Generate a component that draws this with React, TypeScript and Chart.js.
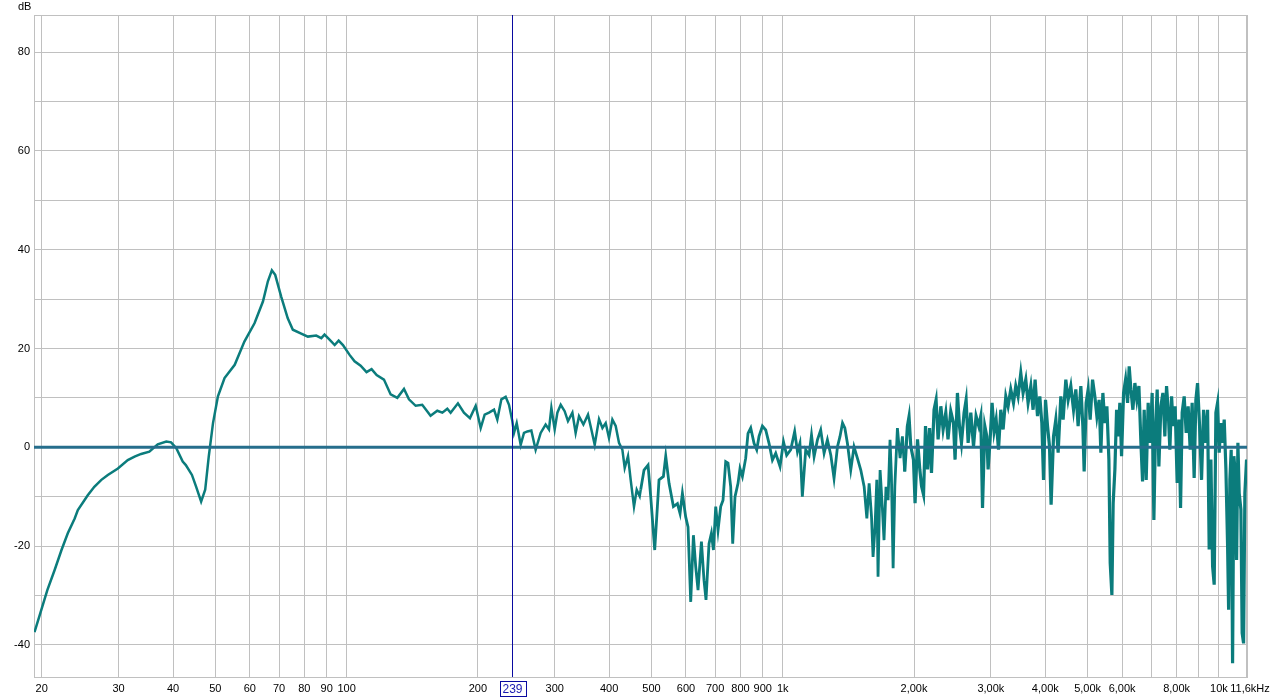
import React, { useEffect, useRef } from 'react';
import { Chart, registerables } from 'chart.js';

Chart.register(...registerables);

// Measured frequency response (Hz, dB)
const freqHz: number[] = [
  19.25, 19.94, 20.6, 21.4, 22.2, 22.95, 23.8, 24.2, 25.5, 26.4, 27.4, 28.35, 29.9, 31.5, 32.65, 33.8, 35.3, 36.9, 38.6, 39.6,
  40.7, 42.1, 42.8, 44.2, 45.2, 46.4, 47.4, 48.3, 49.4, 50.7, 52.5, 55.4, 58.3, 61.5, 64.3, 66.0, 67.4, 68.6, 70.8, 73.3,
  75.3, 78.7, 81.5, 85.2, 87.5, 89.0, 91.4, 93.9, 95.9, 98.1, 101.6, 104.3, 107.7, 111.1, 114.1, 117.2,
  121.8, 126.2, 130.7, 135.4, 139.0, 144.0, 149.1, 155.8, 161.4, 165.8, 170.2, 173.2, 180.0, 185.8, 191.8, 197.7, 203.0, 207.3,
  212.1, 217.8, 221.6, 226.4, 231.6, 235.7, 239.9, 242.0, 245.5, 250.7, 255.1, 259.7, 265.2, 271.3, 278.6, 286.0, 291.1, 294.8,
  300.0, 304.3, 309.7, 316.2, 321.8, 329.4, 335.1, 341.1, 349.1, 357.7, 364.1, 370.6, 379.1, 386.0, 392.7, 399.6, 406.8, 414.0,
  421.3, 428.9, 434.2, 441.8, 448.1, 456.0, 462.6, 469.9,
  472.4, 480.8, 491.1, 498.1, 508.7, 520.4, 532.6, 539.2, 548.7, 561.5, 573.5, 581.5, 588.8, 599.1, 606.5, 615.2, 624.0, 631.7,
  639.4, 651.0, 659.9, 666.9, 677.6, 686.2, 693.5, 702.0, 710.6, 720.7, 729.6, 740.0, 749.1, 759.8, 767.9, 777.3, 789.7, 798.0,
  808.2, 822.4, 832.5, 844.5, 859.4, 871.7, 882.3, 898.2, 914.1, 930.2, 947.0, 963.6, 985.8, 1004, 1021, 1043, 1065, 1081,
  1095, 1109, 1129, 1149, 1164, 1180, 1201, 1222, 1244, 1266, 1289, 1311, 1335, 1353, 1371, 1388, 1407, 1432, 1457, 1483,
  1510, 1537, 1559, 1578, 1598, 1611, 1628, 1643, 1654, 1672, 1693, 1707, 1725, 1744, 1762, 1775, 1791, 1807, 1832, 1858,
  1881, 1904, 1931, 1948,
  1966, 1994, 2011, 2037, 2062, 2081, 2103, 2125, 2148, 2171, 2193, 2223, 2247, 2271, 2304, 2332, 2365, 2393, 2428, 2463,
  2484, 2515, 2542, 2569, 2605, 2633, 2661, 2699, 2738, 2775, 2815, 2845, 2871, 2906, 2937, 2957, 2989, 3020, 3052, 3085,
  3124, 3162, 3201, 3247, 3286, 3333, 3381, 3422, 3464, 3514, 3557, 3608, 3652, 3705, 3750, 3790, 3838, 3885, 3927, 3962,
  4004, 4047, 4089, 4124, 4177, 4228, 4280, 4341, 4394, 4457, 4512, 4576, 4642, 4699, 4756,
  4825, 4876, 4910, 4962, 5015, 5068, 5133, 5195, 5251, 5315, 5363, 5420, 5477, 5536, 5595, 5634, 5684, 5723, 5775, 5827,
  5875, 5928, 5982, 6046, 6110, 6175, 6228, 6284, 6351, 6418, 6485, 6556, 6626, 6683, 6741, 6813, 6884, 6957, 7031, 7095,
  7159, 7220, 7285, 7362, 7441, 7518, 7586, 7651, 7720, 7790, 7855, 7938, 8023, 8095, 8168, 8238, 8326, 8414, 8503, 8594,
  8684, 8776, 8856, 8935, 9030, 9125, 9223, 9321, 9420, 9501, 9587, 9674, 9755, 9843, 9931, 10016, 10106, 10198, 10285, 10378,
  10471, 10527, 10598, 10671, 10750, 10825, 10900, 10980, 11056, 11132, 11232, 11308, 11393, 11470, 11573, 11600,
];

const levelDb: number[] = [
  -37.4, -33.0, -28.9, -24.9, -20.8, -17.4, -14.4, -12.7, -9.7, -8.0, -6.6, -5.6, -4.3, -2.6, -1.9, -1.35, -0.9, 0.6, 1.15, 1.0,
  -0.2, -2.9, -3.6, -5.6, -8.0, -11.0, -8.6, -1.9, 4.9, 10.3, 14.0, 16.7, 21.4, 25.1, 29.5, 33.6, 35.8, 34.9, 30.5, 26.1,
  23.8, 23.0, 22.4, 22.6, 22.1, 22.8, 21.8, 20.7, 21.6, 20.7, 18.7, 17.4, 16.5, 15.2, 15.8, 14.6,
  13.7, 10.7, 10.0, 11.8, 9.7, 8.4, 8.6, 6.4, 7.4, 7.0, 7.8, 7.0, 8.9, 7.0, 5.9, 8.4, 3.9, 6.6,
  7.0, 7.6, 5.6, 9.7, 10.2, 8.6, 5.3, 2.9, 4.9, 0.5, 2.9, 3.2, 3.4, -0.5, 2.9, 4.6, 3.6, 8.0,
  3.6, 7.0, 8.6, 7.3, 5.3, 7.0, 2.9, 6.3, 4.6, 6.6, 3.6, 0.5, 5.7, 3.9, 4.9, 1.9, 5.6, 4.3,
  0.9, -0.5, -4.2, -1.8, -6.6, -12.0, -8.6, -9.9,
  -8.6, -4.6, -3.6, -10.0, -20.8, -6.6, -5.9, -1.8, -7.3, -12.0, -11.4, -13.4, -9.3, -14.1, -16.1, -31.3, -17.8, -24.2,
  -28.9, -19.1, -26.9, -30.9, -19.5, -17.4, -20.8, -12.0, -16.8, -12.0, -10.7, -2.9, -3.2, -8.0, -19.5, -10.0, -7.3, -4.3,
  -5.9, -2.2, 2.8, 3.9, 0.8, -0.5, 2.2, 4.3, 3.5, 0.8, -2.6, -1.2, -3.9, 1.1, -1.6, -0.5, 3.2, -0.9,
  0.8, -10.0, -0.5, -1.6, 2.5, -1.9, 1.5, 3.5, -1.2, 1.5, -1.6, -6.3, 0.1, 2.2, 4.9, 3.9, 0.8, -4.6, 0.1, -2.2,
  -4.6, -8.0, -14.4, -7.3, -14.1, -22.2, -16.1, -6.6, -26.2, -4.6, -12.7, -18.8, -8.0, -10.7, 1.5, -5.9, -24.5, -8.0, 3.9, -2.2,
  2.2, -4.9, 4.2, 6.2,
  0.2, -2.5, -11.3, 1.6, -4.5, -7.9, -9.6, 4.3, -4.5, 3.9, -5.2, 7.6, 9.6, 1.6, 8.3, 3.6, 7.0, 1.6, 7.3, 4.9,
  -2.5, 11.0, 4.3, 0.9, 7.0, 9.6, 0.9, 7.0, 0.2, 6.3, 4.3, 6.3, -12.3, 4.3, 2.2, -4.5, 1.6, 9.0, 3.2, 5.6,
  -0.5, 7.6, 3.6, 10.3, 8.3, 11.7, 9.0, 12.4, 10.3, 15.0, 11.0, 13.7, 9.0, 12.4, 7.6, 13.7, 6.3, 10.3, 4.9, -6.6,
  9.6, 4.3, 0.2, -11.6, 2.2, 5.6, -1.1, 10.3, 5.6, 13.7, 9.6, 12.4, 7.6, 11.7, 4.3,
  12.4, 4.3, -4.9, 9.0, 11.7, 5.6, 13.7, 10.3, 6.3, 9.6, -1.1, 11.0, 4.9, 8.3, -2.5, -23.4, -29.9, -11.3, -4.5, 7.6,
  2.2, 9.0, -1.8, 11.0, 13.7, 9.0, 16.4, 11.7, 7.6, 13.0, 9.6, 12.4, 0.9, -6.9, 7.6, -6.6, 9.0, 0.9, 11.0, -14.7,
  4.3, 11.7, -3.9, 8.3, 11.0, 2.2, 12.4, 7.6, -0.5, 10.3, 4.3, 8.3, -7.2, 5.6, -12.3, 7.0, 10.3, 2.9, 8.3, -0.5,
  9.0, -6.2, 9.6, 13.0, 4.3, -6.6, 7.6, 0.9, 7.6, -20.7, -2.5, -24.1, -27.8, 7.0, 9.0, -1.1, 4.9, 0.9, 5.6, -4.5,
  -20.1, -32.9, -6.6, -0.5, -43.7, -1.8, -5.2, -22.8, 0.9, -9.3, -12.6, -37.6, -39.7, -9.3, -2.5, -4.5,
];

// Axis definitions
const X_MIN = 19.2;
const X_MAX = 11600;
const Y_MIN = -46.5;
const Y_MAX = 87.5;
const xGridHz: number[] = [20, 30, 40, 50, 60, 70, 80, 90, 100, 200, 300, 400, 500, 600, 700, 800, 900, 1000,
  2000, 3000, 4000, 5000, 6000, 7000, 8000, 9000, 10000];
const xTickText: Record<number, string> = {
  20: '20', 30: '30', 40: '40', 50: '50', 60: '60', 70: '70', 80: '80', 90: '90', 100: '100',
  200: '200', 300: '300', 400: '400', 500: '500', 600: '600', 700: '700', 800: '800', 900: '900', 1000: '1k',
  2000: '2,00k', 3000: '3,00k', 4000: '4,00k', 5000: '5,00k', 6000: '6,00k', 7000: '', 8000: '8,00k', 9000: '',
  10000: '10k',
};
const xEndLabel = '11,6kHz';
const yGridDb: number[] = [-40, -30, -20, -10, 0, 10, 20, 30, 40, 50, 60, 70, 80];
const yLabelDb: number[] = [-40, -20, 0, 20, 40, 60, 80];
const cursorHz = 239;

const FONT = 'Liberation Sans, Arial, sans-serif';

export default function App() {
  const canvasRef = useRef<HTMLCanvasElement | null>(null);

  useEffect(() => {
    const canvas = canvasRef.current;
    if (!canvas) return;

    const overlay = {
      id: 'rewOverlay',
      beforeDatasetsDraw(chart: any) {
        const { ctx, chartArea: a } = chart;
        ctx.save();
        ctx.strokeStyle = '#c0c0c0';
        ctx.lineWidth = 1;
        ctx.strokeRect(Math.round(a.left) + 0.5, Math.round(a.top) + 0.5,
          Math.round(a.right - a.left) - 1, Math.round(a.bottom - a.top));
        ctx.restore();
      },
      afterDraw(chart: any) {
        const { ctx, chartArea: a, scales } = chart;
        const xs = scales.x;
        const cx = Math.round(xs.getPixelForValue(cursorHz)) + 0.5;
        ctx.save();
        ctx.strokeStyle = '#0a0aa0';
        ctx.lineWidth = 1;
        ctx.beginPath();
        ctx.moveTo(cx, a.top);
        ctx.lineTo(cx, a.bottom);
        ctx.stroke();
        // cursor value box
        ctx.font = '12px ' + FONT;
        const label = String(cursorHz);
        const tw = ctx.measureText(label).width;
        const bw = Math.round(tw + 6);
        const bx = Math.round(cx - bw / 2) + 0.5;
        const by = Math.round(a.bottom) + 4.5;
        ctx.fillStyle = '#ffffff';
        ctx.fillRect(bx, by, bw, 15);
        ctx.strokeRect(bx, by, bw, 15);
        ctx.fillStyle = '#1a1ab0';
        ctx.textAlign = 'center';
        ctx.textBaseline = 'middle';
        ctx.fillText(label, cx, by + 8);
        // end-of-axis label and unit label
        ctx.fillStyle = '#000';
        ctx.font = '11px ' + FONT;
        const ex = xs.getPixelForValue(X_MAX) + 3;
        ctx.fillText(xEndLabel, ex, Math.round(a.bottom) + 12);
        ctx.textAlign = 'left';
        ctx.fillText('dB', 18, 7);
        ctx.restore();
      },
    };

    const chart = new Chart(canvas, {
      type: 'line',
      data: {
        datasets: [
          {
            label: 'zero',
            data: [{ x: X_MIN, y: 0 }, { x: X_MAX, y: 0 }],
            borderColor: '#266e8c',
            borderWidth: 3,
            pointRadius: 0,
            order: 0,
          },
          {
            label: 'response',
            data: freqHz.map((f, i) => ({ x: f, y: levelDb[i] })),
            borderColor: '#0b7c7c',
            borderWidth: 2.5,
            pointRadius: 0,
            tension: 0,
            order: 1,
            segment: {
              borderWidth: (c: any) => (c.p0.parsed.x > 1900 ? 3.2 : (c.p0.parsed.x > 470 ? 2.8 : 2.5)),
            },
          },
        ],
      },
      options: {
        responsive: false,
        animation: false,
        devicePixelRatio: 1,
        layout: { padding: { top: 15, right: 34, left: 0, bottom: 0 } },
        plugins: { legend: { display: false }, tooltip: { enabled: false }, title: { display: false } },
        scales: {
          x: {
            type: 'logarithmic',
            min: X_MIN,
            max: X_MAX,
            afterBuildTicks: (scale: any) => {
              scale.ticks = [...xGridHz, X_MAX].map((v) => ({ value: v }));
            },
            afterFit: (scale: any) => {
              scale.height = 21;
            },
            grid: { color: '#c0c0c0', lineWidth: 1, drawTicks: false },
            border: { display: true, color: '#c0c0c0' },
            ticks: {
              autoSkip: false,
              maxRotation: 0,
              minRotation: 0,
              padding: 5,
              color: '#000',
              font: { family: FONT, size: 11 },
              callback: (v: any) => {
                const key = Math.round(Number(v));
                return xTickText[key] !== undefined ? xTickText[key] : '';
              },
            },
          },
          y: {
            type: 'linear',
            min: Y_MIN,
            max: Y_MAX,
            afterBuildTicks: (scale: any) => {
              scale.ticks = yGridDb.map((v) => ({ value: v }));
            },
            afterFit: (scale: any) => {
              scale.width = 34;
            },
            grid: { color: '#c0c0c0', lineWidth: 1, drawTicks: false },
            border: { display: true, color: '#c0c0c0' },
            ticks: {
              padding: 4,
              color: '#000',
              font: { family: FONT, size: 11 },
              callback: (v: any) => (yLabelDb.includes(Number(v)) ? String(v) : ''),
            },
          },
        },
      },
      plugins: [overlay],
    } as any);

    return () => chart.destroy();
  }, []);

  return (
    <div style={{ position: 'absolute', left: 0, top: 0, width: 1281, height: 698, background: '#fff' }}>
      <canvas ref={canvasRef} width={1281} height={698} style={{ display: 'block' }} />
    </div>
  );
}
